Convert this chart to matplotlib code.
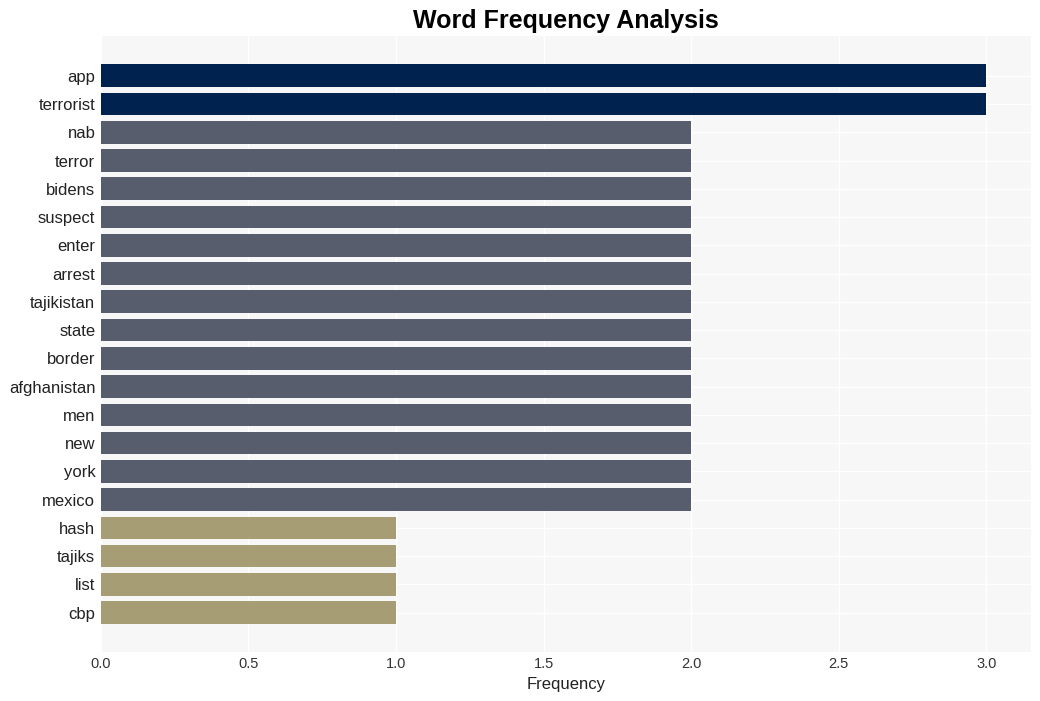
import matplotlib
matplotlib.use('Agg')
import matplotlib.pyplot as plt

# word counts
words = ['app', 'terrorist', 'nab', 'terror', 'bidens', 'suspect', 'enter', 'arrest',
         'tajikistan', 'state', 'border', 'afghanistan', 'men', 'new', 'york', 'mexico',
         'hash', 'tajiks', 'list', 'cbp']
counts = [3, 3, 2, 2, 2, 2, 2, 2, 2, 2, 2, 2, 2, 2, 2, 2, 1, 1, 1, 1]

col_map = {3: '#00224e', 2: '#575d6d', 1: '#a69d75'}

plt.rcParams['font.family'] = ['Liberation Sans', 'DejaVu Sans']

fig, ax = plt.subplots(figsize=(10.4, 7.01), dpi=100)
fig.subplots_adjust(left=0.097, right=0.991, top=0.948, bottom=0.07)
ax.set_facecolor('#f7f7f7')

ypos = list(range(len(words)))
ax.barh(ypos, counts, height=0.8, color=[col_map[c] for c in counts], zorder=2)
ax.set_yticks(ypos)
ax.set_yticklabels(words, fontsize=12, color='#222222')
ax.invert_yaxis()

ax.set_xlim(0, 3.15)
ax.set_xticks([0, 0.5, 1.0, 1.5, 2.0, 2.5, 3.0])
ax.set_xticklabels(['0.0', '0.5', '1.0', '1.5', '2.0', '2.5', '3.0'], fontsize=10.5, color='#333333')
ax.set_xlabel('Frequency', fontsize=12, color='#222222')
ax.set_title('Word Frequency Analysis', fontsize=18, fontweight='bold', pad=6)

ax.grid(True, color='white', linewidth=1, zorder=0)
ax.set_axisbelow(True)
for s in ax.spines.values():
    s.set_visible(False)
ax.tick_params(length=0, pad=4)

plt.savefig('out.png', dpi=100)
